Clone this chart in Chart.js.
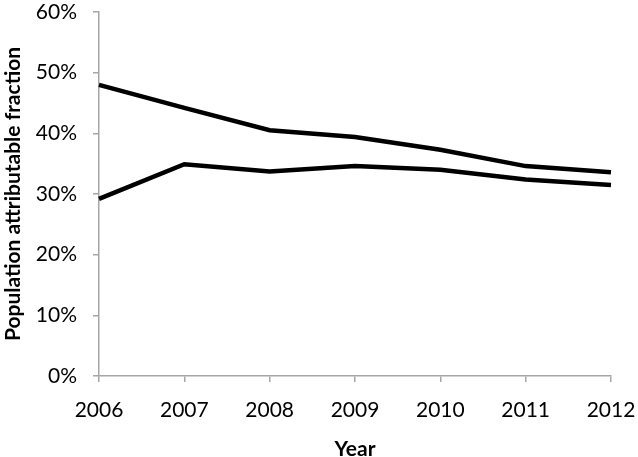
<!DOCTYPE html>
<html>
<head>
<meta charset="utf-8">
<script src="https://cdn.jsdelivr.net/npm/chart.js@4"></script>
<style>
html,body{margin:0;padding:0;background:#fff;}
#wrap{width:638px;height:457px;}
</style>
</head>
<body>
<div id="wrap"><canvas id="c" width="638" height="457"></canvas></div>
<script>
const years = ["2006","2007","2008","2009","2010","2011","2012"];
const seriesUpper = [48.0, 44.2, 40.5, 39.4, 37.3, 34.6, 33.6];
const seriesLower = [29.2, 34.9, 33.7, 34.6, 34.0, 32.4, 31.5];
const yTicks = [0, 10, 20, 30, 40, 50, 60];

const FONT = "Lato, 'Open Sans', sans-serif";
const axisGrey = '#a6a6a6';

new Chart(document.getElementById('c'), {
  type: 'line',
  data: {
    labels: years,
    datasets: [
      {data: seriesUpper, borderColor: '#000', borderWidth: 4.5, pointRadius: 0, tension: 0, fill: false},
      {data: seriesLower, borderColor: '#000', borderWidth: 4.5, pointRadius: 0, tension: 0, fill: false}
    ]
  },
  options: {
    responsive: false,
    animation: false,
    devicePixelRatio: 1,
    layout: {padding: {top: 12, right: 27, left: 0, bottom: 0}},
    plugins: {legend: {display: false}, tooltip: {enabled: false}},
    scales: {
      x: {
        offset: false,
        grid: {display: true, drawOnChartArea: false, color: axisGrey, tickLength: 6, lineWidth: 1.5},
        border: {color: axisGrey, width: 1.5},
        ticks: {color: '#000', font: {family: FONT, size: 21}, padding: 16, maxRotation: 0, autoSkip: false},
        title: {display: true, text: 'Year', color: '#000', font: {family: FONT, size: 21, weight: 'bold'}, padding: {top: 4, bottom: -5}},
        afterFit: (s) => { s.height = 81; s.paddingRight = 0; s.paddingLeft = 0; }
      },
      y: {
        min: 0, max: 60,
        afterBuildTicks: (s) => { s.ticks = yTicks.map(v => ({value: v})); },
        grid: {display: true, drawOnChartArea: false, color: axisGrey, tickLength: 6, lineWidth: 1.5},
        border: {color: axisGrey, width: 1.5},
        ticks: {color: '#000', font: {family: FONT, size: 21}, padding: 16, callback: (v) => v + '%'},
        title: {display: true, text: 'Population attributable fraction', color: '#000', font: {family: FONT, size: 21, weight: 'bold'}, padding: {top: 1, bottom: 0}},
        afterFit: (s) => { s.width = 99; s.paddingTop = 0; s.paddingBottom = 0; }
      }
    }
  }
});
</script>
</body>
</html>
